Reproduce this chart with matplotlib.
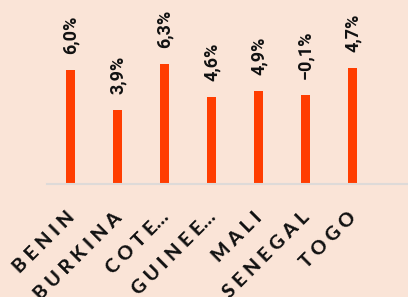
import matplotlib
matplotlib.use("Agg")
import matplotlib.pyplot as plt

categories = ["BENIN", "BURKINA", "COTE...", "GUINEE...", "MALI", "SENEGAL", "TOGO"]
bar_values = [6.0, 3.9, 6.3, 4.6, 4.9, 4.7, 6.1]
value_labels = ["6,0%", "3,9%", "6,3%", "4,6%", "4,9%", "\u22120,1%", "4,7%"]

BG = "#FAE4D7"
BAR = "#FF3D00"

fig = plt.figure(figsize=(4.08, 2.97), dpi=100)
fig.patch.set_facecolor(BG)
ax = fig.add_axes([47 / 408, 112.7 / 297, 1 - 47 / 408, 184.3 / 297])
ax.set_facecolor(BG)

x = list(range(len(categories)))
ax.bar(x, bar_values, width=0.18, color=BAR, zorder=2)
ax.set_xlim(-0.5, 7.18)
ax.set_ylim(0, 9.675)

for s in ["top", "right", "left"]:
    ax.spines[s].set_visible(False)
ax.spines["bottom"].set_color("#DEDAD8")
ax.spines["bottom"].set_linewidth(1.5)
ax.set_yticks([])
ax.set_xticks([])

spaced = [" ".join(list(c)) if not c.endswith("...") else " ".join(list(c[:-3])) + "\u2026" for c in categories]
for xi, lab in zip(x, spaced):
    ax.annotate(lab, (xi, 0), xycoords=("data", "axes fraction"),
                xytext=(-3.5, -17.5), textcoords="offset points",
                rotation=45, ha="right", va="top", rotation_mode="anchor",
                fontsize=14, fontweight="black", family=["Lato", "DejaVu Sans"],
                color="#111111", annotation_clip=False)

for xi, v, lab in zip(x, bar_values, value_labels):
    ax.annotate(lab, (xi, v), xytext=(0, 11.5), textcoords="offset points",
                rotation=90, ha="center", va="bottom", fontsize=13,
                fontweight="bold", family=["Roboto", "DejaVu Sans"], color="#111111")

fig.savefig("out.png", dpi=100, facecolor=BG)
